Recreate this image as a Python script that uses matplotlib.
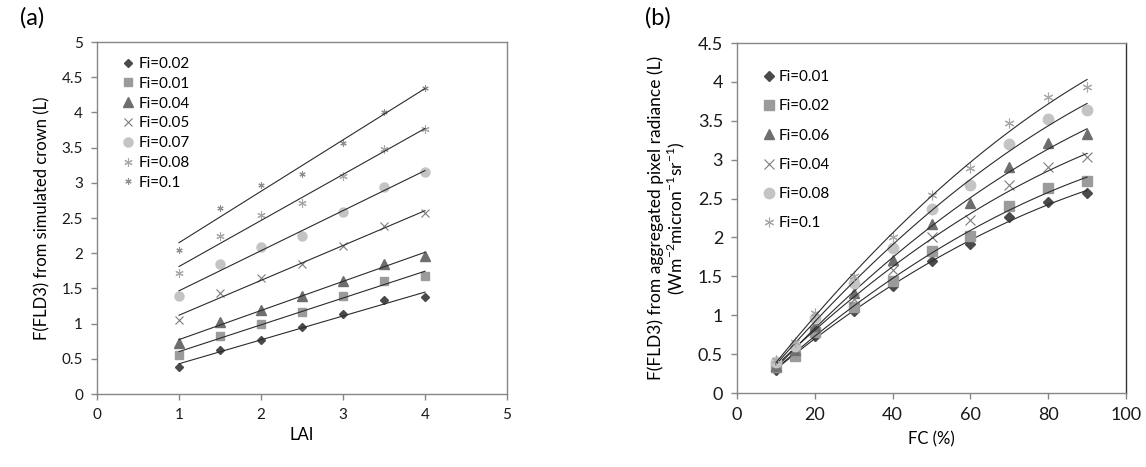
import numpy as np
import matplotlib
matplotlib.use("Agg")
import matplotlib.pyplot as plt

plt.rcParams["font.family"] = ["Lato", "DejaVu Sans"]
plt.rcParams["mathtext.fontset"] = "custom"
plt.rcParams["mathtext.rm"] = "Lato"

# panel (a): LAI vs F(FLD3) from simulated crown
lai = [1, 1.5, 2, 2.5, 3, 3.5, 4]
labels_a = ["Fi=0.02", "Fi=0.01", "Fi=0.04", "Fi=0.05", "Fi=0.07", "Fi=0.08", "Fi=0.1"]
vals_a = [
    [0.39, 0.62, 0.77, 0.95, 1.13, 1.33, 1.38],
    [0.55, 0.83, 0.99, 1.17, 1.39, 1.60, 1.68],
    [0.72, 1.02, 1.20, 1.39, 1.61, 1.85, 1.96],
    [1.05, 1.43, 1.65, 1.84, 2.10, 2.39, 2.57],
    [1.39, 1.84, 2.09, 2.25, 2.58, 2.94, 3.15],
    [1.72, 2.24, 2.54, 2.71, 3.09, 3.48, 3.76],
    [2.05, 2.64, 2.97, 3.13, 3.57, 4.00, 4.35],
]

# panel (b): FC vs F(FLD3) from aggregated pixel radiance
fc = [10, 15, 20, 30, 40, 50, 60, 70, 80, 90]
labels_b = ["Fi=0.01", "Fi=0.02", "Fi=0.06", "Fi=0.04", "Fi=0.08", "Fi=0.1"]
vals_b = [
    [0.30, 0.50, 0.73, 1.05, 1.37, 1.70, 1.91, 2.26, 2.46, 2.57],
    [0.33, 0.47, 0.79, 1.11, 1.44, 1.82, 2.02, 2.41, 2.63, 2.73],
    [0.35, 0.55, 0.86, 1.28, 1.71, 2.17, 2.44, 2.91, 3.21, 3.33],
    [0.33, 0.56, 0.90, 1.21, 1.58, 2.00, 2.23, 2.67, 2.91, 3.03],
    [0.40, 0.60, 0.96, 1.41, 1.86, 2.36, 2.67, 3.20, 3.52, 3.64],
    [0.43, 0.65, 1.03, 1.50, 2.01, 2.55, 2.89, 3.47, 3.80, 3.94],
]

ASTER = (6, 2, 0)
style_a = [
    dict(marker="D", color="#4a4a4a", ms=4.5),
    dict(marker="s", color="#9b9b9b", ms=6),
    dict(marker="^", color="#6e6e6e", ms=6.5),
    dict(marker="x", color="#7c7c7c", ms=6, mew=0.8),
    dict(marker="o", color="#c4c4c4", ms=6.5),
    dict(marker=ASTER, color="#a8a8a8", ms=6, mew=0.8),
    dict(marker=ASTER, color="#8e8e8e", ms=4.5, mew=0.8),
]
style_b = [
    dict(marker="D", color="#4a4a4a", ms=5),
    dict(marker="s", color="#9b9b9b", ms=7),
    dict(marker="^", color="#6e6e6e", ms=7.5),
    dict(marker="x", color="#7c7c7c", ms=7, mew=0.8),
    dict(marker="o", color="#c4c4c4", ms=7.5),
    dict(marker=ASTER, color="#a8a8a8", ms=7, mew=0.8),
]

frame = "#868686"

fig = plt.figure(figsize=(11.46, 4.67), dpi=100)
ax1 = fig.add_axes([97 / 1146, 73 / 467, 410 / 1146, 352 / 467])
ax2 = fig.add_axes([737 / 1146, 74 / 467, 389 / 1146, 350 / 467])


def style_axes(ax, tick_size):
    for sp in ax.spines.values():
        sp.set_color(frame)
        sp.set_linewidth(1.0)
    ax.tick_params(direction="out", length=4, width=1, color=frame,
                   labelsize=tick_size, labelcolor="#1a1a1a", pad=6)


# panel (a)
for vals, lab, st in zip(vals_a, labels_a, style_a):
    st = dict(st)
    ax1.plot(lai, vals, linestyle="none", marker=st.pop("marker"),
             color=st.pop("color"), markersize=st.pop("ms"), label=lab, **st)
    k, b = np.polyfit(lai, vals, 1)
    xx = np.array([lai[0], lai[-1]])
    ax1.plot(xx, k * xx + b, color="#2b2b2b", lw=0.8)

ax1.set_xlim(0, 5)
ax1.set_ylim(0, 5)
ax1.set_xticks(range(0, 6))
ax1.set_yticks(np.arange(0, 5.01, 0.5))
ax1.set_yticklabels(["0", "0.5", "1", "1.5", "2", "2.5", "3", "3.5", "4", "4.5", "5"])
style_axes(ax1, 11)
ax1.set_xlabel("LAI", fontsize=12, labelpad=4)
ax1.set_ylabel("F(FLD3) from simulated crown (L)", fontsize=12, labelpad=8)
leg1 = ax1.legend(loc="upper left", bbox_to_anchor=(0.05, 0.975), frameon=False,
                  fontsize=11, handlelength=0.6, handletextpad=0.35,
                  labelspacing=0.38, borderaxespad=0)
fig.text(20 / 1146, 1 - 18 / 467, "(a)", fontsize=17, va="center", ha="left")

# panel (b)
for vals, lab, st in zip(vals_b, labels_b, style_b):
    st = dict(st)
    ax2.plot(fc, vals, linestyle="none", marker=st.pop("marker"),
             color=st.pop("color"), markersize=st.pop("ms"), label=lab, **st)
    c = np.polyfit(fc, vals, 2)
    xx = np.linspace(fc[0], fc[-1], 100)
    ax2.plot(xx, np.polyval(c, xx), color="#2b2b2b", lw=0.8)

ax2.set_xlim(0, 100)
ax2.set_ylim(0, 4.5)
ax2.set_xticks(range(0, 101, 20))
ax2.set_yticks(np.arange(0, 4.51, 0.5))
ax2.set_yticklabels(["0", "0.5", "1", "1.5", "2", "2.5", "3", "3.5", "4", "4.5"])
style_axes(ax2, 13)
ax2.spines["right"].set_color("#333333")
ax2.set_xlabel("FC (%)", fontsize=12, labelpad=6)
ax2.set_ylabel("F(FLD3) from aggregated pixel radiance (L)\n"
               r"(Wm$^{-2}$micron$^{-1}$sr$^{-1}$)",
               fontsize=12.5, labelpad=8, linespacing=1.05)
leg2 = ax2.legend(loc="upper left", bbox_to_anchor=(0.055, 0.94), frameon=False,
                  fontsize=11, handlelength=0.6, handletextpad=0.35,
                  labelspacing=1.0, borderaxespad=0)
fig.text(645 / 1146, 1 - 18 / 467, "(b)", fontsize=17, va="center", ha="left")

fig.savefig("out.png", dpi=100)
